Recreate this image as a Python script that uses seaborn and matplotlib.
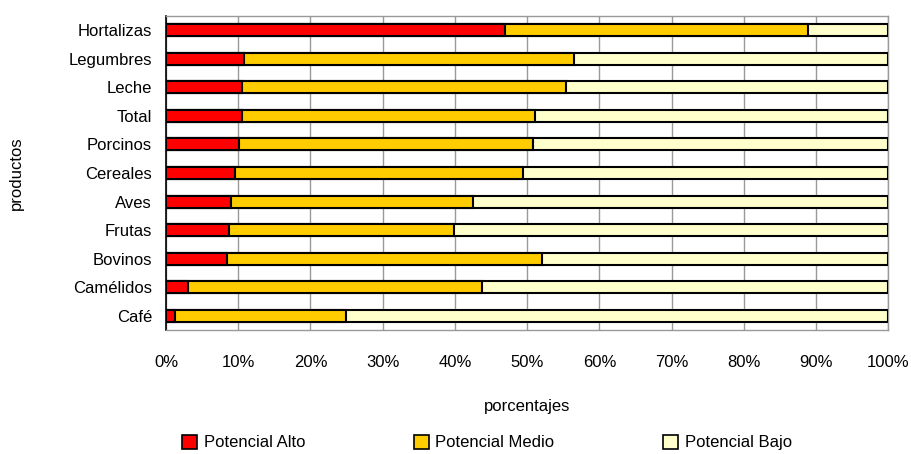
import matplotlib
matplotlib.use("Agg")
import matplotlib.pyplot as plt
from matplotlib.patches import Patch
import seaborn as sb
import pandas as pd
import numpy as np

# Data (percent)
productos = ['Hortalizas', 'Legumbres', 'Leche', 'Total', 'Porcinos', 'Cereales',
             'Aves', 'Frutas', 'Bovinos', 'Camélidos', 'Café']
alto = [47.0, 10.8, 10.5, 10.5, 10.1, 9.6, 9.0, 8.7, 8.4, 3.0, 1.2]
medio = [41.9, 45.7, 44.9, 40.6, 40.7, 39.8, 33.5, 31.2, 43.7, 40.8, 23.7]
bajo = [100 - a - m for a, m in zip(alto, medio)]

series = ['Potencial Alto', 'Potencial Medio', 'Potencial Bajo']
colores = ['#ff0000', '#ffcc00', '#ffffcc']

sb.set_style('white')
plt.rcParams['font.family'] = ['Liberation Sans', 'DejaVu Sans']
plt.rcParams['text.color'] = 'black'
plt.rcParams['axes.labelcolor'] = 'black'
plt.rcParams['xtick.color'] = 'black'
plt.rcParams['ytick.color'] = 'black'

df = pd.DataFrame({'producto': productos, 'alto': alto, 'medio': medio, 'bajo': bajo})
df['c_alto'] = df['alto']
df['c_medio'] = df['alto'] + df['medio']
df['c_bajo'] = df['c_medio'] + df['bajo']

fig, ax = plt.subplots(figsize=(9.12, 4.54), dpi=100)
fig.subplots_adjust(left=0.182, right=0.974, top=0.965, bottom=0.273)

# draw cumulative bars back to front so they stack
for col, color in zip(['c_bajo', 'c_medio', 'c_alto'], colores[::-1]):
    sb.barplot(data=df, x=col, y='producto', orient='h', color=color, width=0.42,
               edgecolor='black', linewidth=1.5, saturation=1, ax=ax, zorder=3)

ax.set_xlim(0, 100)
ax.set_ylim(10.5, -0.5)
ax.set_xticks(np.arange(0, 101, 10))
ax.set_xticklabels([f'{v}%' for v in range(0, 101, 10)], fontsize=12)
ax.tick_params(axis='x', length=0, pad=18)
ax.grid(axis='x', color='#999999', linewidth=1, zorder=0)

ax.set_yticks(np.arange(-0.5, 11, 1), minor=True)
ax.tick_params(axis='y', which='major', length=0, labelsize=12, pad=10)
ax.tick_params(axis='y', which='minor', length=5, width=1.2, color='black', direction='out')

for s in ['top', 'bottom', 'right']:
    ax.spines[s].set_color('#999999')
    ax.spines[s].set_linewidth(1)
ax.spines['left'].set_color('black')
ax.spines['left'].set_linewidth(1.2)

ax.set_xlabel('porcentajes', fontsize=12, labelpad=21)
ax.set_ylabel('productos', fontsize=12)
ax.yaxis.set_label_coords(-0.196, 0.5)

handles = [Patch(facecolor=c, edgecolor='black', linewidth=1.2) for c in colores]
fig.legend(handles, series, loc='lower center', bbox_to_anchor=(0.534, -0.025), ncol=3,
           frameon=False, fontsize=12, handlelength=0.9, handleheight=0.9,
           handletextpad=0.4, columnspacing=6.5)

fig.savefig('out.png', dpi=100)
